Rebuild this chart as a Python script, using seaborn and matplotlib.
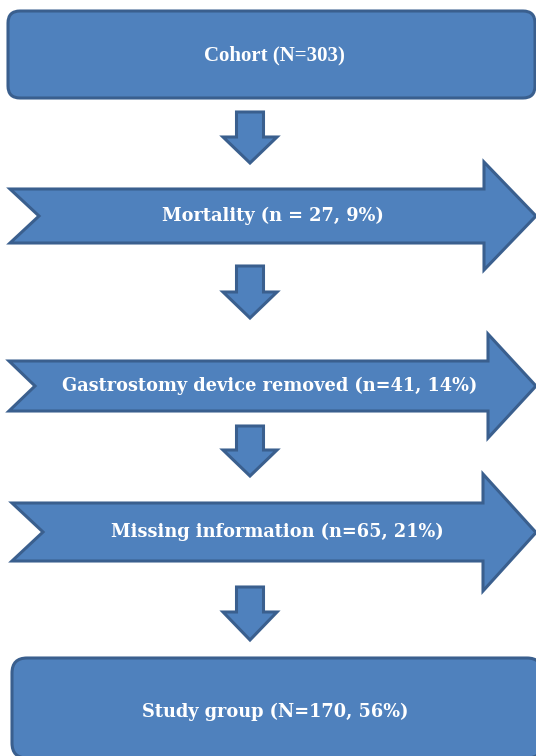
import matplotlib

matplotlib.use("Agg")
import matplotlib.pyplot as plt
from matplotlib.patches import FancyBboxPatch, Polygon
import seaborn as sns

# flow chart content
box_labels = ["Cohort (N=303)", "Study group (N=170, 56%)"]
exclusion_labels = [
    "Mortality (n = 27, 9%)",
    "Gastrostomy device removed (n=41, 14%)",
    "Missing information (n=65, 21%)",
]

# layout, in pixels from top-left of the 536x756 canvas
boxes = [(8, 11, 527, 87, 12), (12, 658, 530, 100, 15)]  # x, y, w, h, radius
box_text_y = [55, 712]
# left, notch, body_top, body_bottom, head_x, head_top, head_bottom, tip_x
chevrons = [
    (10, 39, 189, 243, 484, 162, 270, 536),
    (9, 35, 361, 411, 488, 334, 438, 536),
    (12, 43, 503, 561, 483, 474, 591, 536),
]
chevron_text_x = [273, 270, 277]
# shaft_top, head_y, tip_y
down_arrows = [(112, 137, 163), (266, 292, 318), (426, 450, 476), (587, 612, 640)]
down_cx, shaft_half, head_half = 250, 13.5, 27

FILL = "#4F81BD"
EDGE = "#3A5F8E"

sns.set_theme(style="white")

fig = plt.figure(figsize=(5.36, 7.56), dpi=100)
ax = fig.add_axes([0, 0, 1, 1])
ax.set_xlim(0, 536)
ax.set_ylim(756, 0)
ax.axis("off")

for (x, y, w, h, r) in boxes:
    ax.add_patch(FancyBboxPatch((x + r, y + r), w - 2 * r, h - 2 * r,
                                boxstyle=f"round,pad={r}", fc=FILL, ec=EDGE, lw=2.2))

for (l, n, bt, bb, hx, ht, hb, tx) in chevrons:
    mid = (bt + bb) / 2
    pts = [(l, bt), (hx, bt), (hx, ht), (tx, (ht + hb) / 2), (hx, hb),
           (hx, bb), (l, bb), (n, mid)]
    ax.add_patch(Polygon(pts, closed=True, fc=FILL, ec=EDGE, lw=2.2, joinstyle="miter"))

for (st, hy, ty) in down_arrows:
    pts = [(down_cx - shaft_half, st), (down_cx + shaft_half, st),
           (down_cx + shaft_half, hy), (down_cx + head_half, hy),
           (down_cx, ty), (down_cx - head_half, hy), (down_cx - shaft_half, hy)]
    ax.add_patch(Polygon(pts, closed=True, fc=FILL, ec=EDGE, lw=2.2, joinstyle="miter"))

ax.text(274, box_text_y[0], box_labels[0], ha="center", va="center", color="white",
        fontsize=15, fontweight="bold", family="Liberation Serif")
ax.text(275, box_text_y[1], box_labels[1], ha="center", va="center", color="white",
        fontsize=12.8, fontweight="bold", family="DejaVu Serif")

for label, cx, ch in zip(exclusion_labels, chevron_text_x, chevrons):
    ax.text(cx, (ch[2] + ch[3]) / 2, label, ha="center", va="center", color="white",
            fontsize=12.8, fontweight="bold", family="DejaVu Serif")

fig.savefig("out.png", dpi=100)
